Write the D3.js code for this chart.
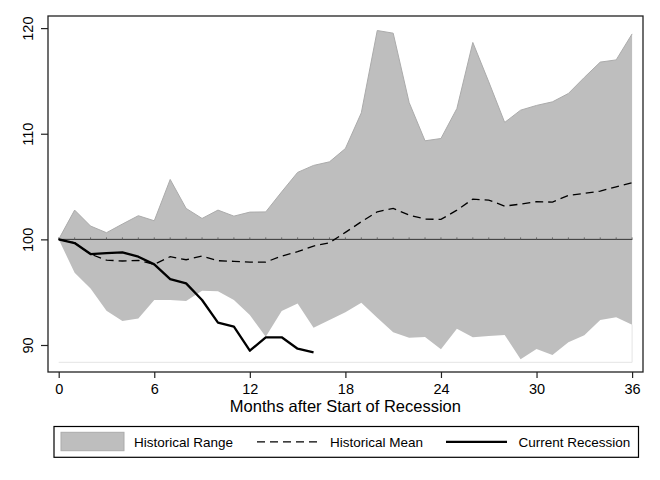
<!DOCTYPE html>
<html><head><meta charset="utf-8">
<script src="https://cdn.jsdelivr.net/npm/d3@7/dist/d3.min.js"></script>
<style>html,body{margin:0;padding:0;background:#fff;}svg{display:block;font-family:"Liberation Sans",Arial,Helvetica,sans-serif;}</style>
</head><body>
<svg id="c" width="660" height="480"></svg>
<script>
const months = d3.range(0, 37);
const rangeUpper = [100,102.77,101.26,100.63,101.45,102.24,101.76,105.67,102.93,101.98,102.77,102.2,102.58,102.6,104.5,106.34,107.0,107.34,108.6,111.98,119.77,119.52,112.96,109.33,109.55,112.39,118.64,114.91,111.07,112.23,112.68,113.02,113.81,115.33,116.78,116.99,119.45];
const rangeLower = [100,96.84,95.36,93.25,92.27,92.52,94.26,94.26,94.16,95.14,95.08,94.26,92.84,90.79,93.22,93.94,91.64,92.37,93.1,94.0,92.58,91.2,90.69,90.76,89.59,91.54,90.73,90.85,90.95,88.65,89.62,89.05,90.26,90.92,92.37,92.62,91.92];
const histMean = [100,99.68,98.6,98.04,97.95,98.01,97.63,98.36,98.07,98.42,97.98,97.92,97.85,97.85,98.42,98.83,99.37,99.68,100.66,101.67,102.61,102.93,102.3,101.92,101.89,102.77,103.81,103.72,103.15,103.34,103.56,103.53,104.16,104.35,104.57,104.98,105.36];
const currentMonths = d3.range(0, 17);
const currentRecession = [100,99.65,98.61,98.7,98.77,98.36,97.63,96.24,95.83,94.26,92.11,91.73,89.46,90.73,90.73,89.65,89.31];
const xTicks = [0,6,12,18,24,30,36];
const yTicks = [90,100,110,120];
const baseValue = 88.36;
const xTitle = "Months after Start of Recession";
const legendLabels = ["Historical Range","Historical Mean","Current Recession"];

const svg = d3.select("#c");
const frame = {l:48, r:643, t:16, b:372};
const x = d3.scaleLinear().domain([0,36]).range([58.7,632.1]);
const y = d3.scaleLinear().domain([90,120]).range([345,28.1]);

// band
const band = d3.area().x((d,i)=>x(months[i])).y0((d,i)=>y(rangeLower[i])).y1(d=>y(d));
svg.append("path").datum(rangeUpper).attr("d", band).attr("fill","#bebebe").attr("stroke","none");
svg.append("path").datum(rangeUpper)
  .attr("d", d3.line().x((d,i)=>x(months[i])).y(d=>y(d)))
  .attr("fill","none").attr("stroke","#ababab").attr("stroke-width",1);
// faint base outline of the lower (white) area
svg.append("path")
  .attr("d", d3.line()([[x(0),y(baseValue)],[x(36),y(baseValue)],[x(36),y(rangeLower[36])]]))
  .attr("fill","none").attr("stroke","#e4e4e4").attr("stroke-width",1);

// reference line at 100
svg.append("line").attr("x1",x(0)).attr("x2",x(36)).attr("y1",y(100)).attr("y2",y(100))
  .attr("stroke","#333").attr("stroke-width",1);
svg.append("g").selectAll("line").data(months).join("line")
  .attr("x1",d=>x(d)).attr("x2",d=>x(d)).attr("y1",y(100)-2).attr("y2",y(100)+0.5)
  .attr("stroke","#555").attr("stroke-width",0.8);

// mean
svg.append("path").datum(histMean)
  .attr("d", d3.line().x((d,i)=>x(months[i])).y(d=>y(d)))
  .attr("fill","none").attr("stroke","#000").attr("stroke-width",1.3).attr("stroke-dasharray","8,5");
// current
svg.append("path").datum(currentRecession)
  .attr("d", d3.line().x((d,i)=>x(currentMonths[i])).y(d=>y(d)))
  .attr("fill","none").attr("stroke","#000").attr("stroke-width",2.3).attr("stroke-linejoin","round");

// frame
svg.append("rect").attr("x",frame.l).attr("y",frame.t).attr("width",frame.r-frame.l).attr("height",frame.b-frame.t)
  .attr("fill","none").attr("stroke","#222").attr("stroke-width",1.3);

// axes
const yAxis = d3.axisLeft(y).tickValues(yTicks).tickSize(7).tickPadding(8).tickFormat(d3.format("d"));
const gy = svg.append("g").attr("transform",`translate(${frame.l},0)`).call(yAxis);
gy.select(".domain").remove();
gy.selectAll(".tick line").attr("stroke","#222").attr("stroke-width",1.2);
gy.selectAll(".tick text").attr("font-size",14.5).attr("fill","#000")
  .attr("transform",function(){return null;})
  .each(function(d){
    d3.select(this).attr("x",null).attr("dy",null).attr("text-anchor","middle")
      .attr("transform",`translate(-16,0) rotate(-90)`).attr("y",0).attr("dominant-baseline","auto");
  });
gy.selectAll(".tick text").attr("transform","translate(-16,0) rotate(-90)").attr("dy","0.05em");

const xAxis = d3.axisBottom(x).tickValues(xTicks).tickSize(6).tickPadding(4).tickFormat(d3.format("d"));
const gx = svg.append("g").attr("transform",`translate(0,${frame.b})`).call(xAxis);
gx.select(".domain").remove();
gx.selectAll(".tick line").attr("stroke","#222").attr("stroke-width",1.2);
gx.selectAll(".tick text").attr("font-size",14.5).attr("fill","#000").attr("dy",null).attr("y",22);

svg.append("text").attr("x",(x(0)+x(36))/2).attr("y",412).attr("text-anchor","middle")
  .attr("font-size",16.5).attr("fill","#000").text(xTitle);

// legend
const lg = svg.append("g");
lg.append("rect").attr("x",54).attr("y",426.5).attr("width",584.5).attr("height",30.8)
  .attr("fill","#fff").attr("stroke","#000").attr("stroke-width",1.2);
lg.append("rect").attr("x",61).attr("y",432.3).attr("width",63).attr("height",18.4)
  .attr("fill","#bebebe").attr("stroke","#ababab").attr("stroke-width",1);
lg.append("line").attr("x1",257).attr("x2",318).attr("y1",441.8).attr("y2",441.8)
  .attr("stroke","#000").attr("stroke-width",1.3).attr("stroke-dasharray","8,5");
lg.append("line").attr("x1",446).attr("x2",507).attr("y1",441.8).attr("y2",441.8)
  .attr("stroke","#000").attr("stroke-width",2.3);
const legX = [134,330,518.5];
lg.selectAll("text.lab").data(legendLabels).join("text").attr("class","lab")
  .attr("x",(d,i)=>legX[i]).attr("y",447).attr("font-size",13.5).attr("fill","#000").text(d=>d);
</script>
</body></html>
